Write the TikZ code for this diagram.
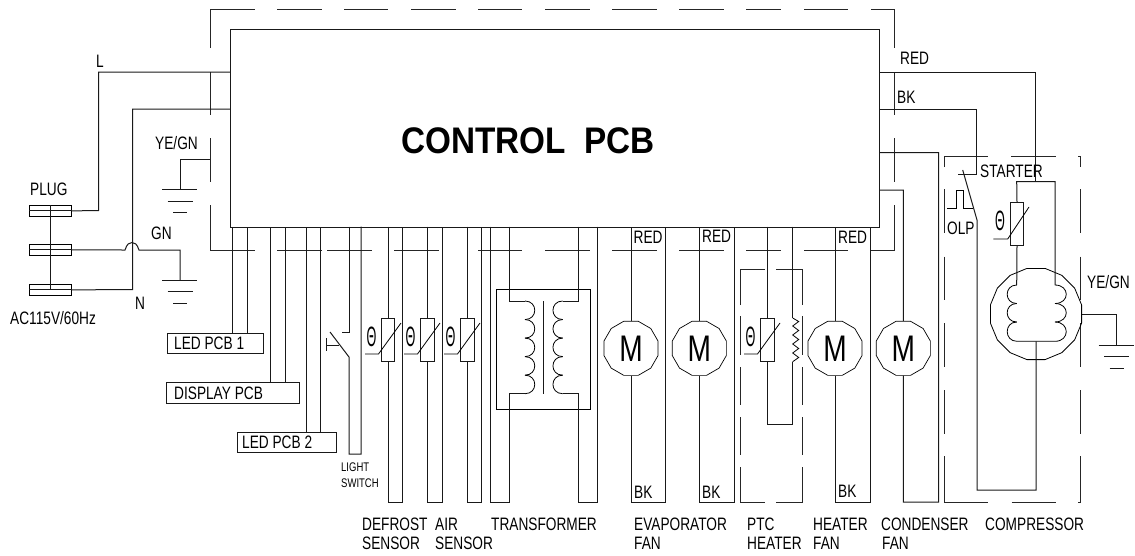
\documentclass[tikz,border=0pt]{standalone}
\usepackage{fontspec}
\usetikzlibrary{shapes.geometric,calc}
\setmainfont{Liberation Sans}[FakeStretch=0.76]
\newfontfamily\wide{Liberation Sans}[FakeStretch=0.9]
\newfontfamily\thin{Liberation Sans}[FakeStretch=0.45]
\tikzset{
  wire/.style={line width=1pt,draw=black!90,line join=miter},
  dsh/.style={line width=1pt,draw=black!85},
  lab/.style={anchor=base west,inner sep=0,font=\fontsize{18}{18}\selectfont},
  tiny lab/.style={anchor=base west,inner sep=0,font=\fontsize{12.5}{12.5}\selectfont},
  pcbbox/.style={draw=black!90,line width=1pt,anchor=north west,inner sep=0,minimum height=20pt,text height=13pt},
  motor/.style={regular polygon,regular polygon sides=12,draw=black,line width=0.7pt,minimum size=56pt,inner sep=0,font=\fontsize{37}{37}\selectfont},
  thbox/.style={draw=black!90,line width=1pt,fill=none,minimum width=13.6pt,minimum height=43pt,inner sep=0},
  theta/.style={inner sep=0,font=\thin\fontsize{28}{28}\selectfont},
}
\begin{document}
\begin{tikzpicture}[x=1pt,y=-1pt]
\useasboundingbox (0,0) rectangle (1135,555);
% main board
\node[draw=black!90,line width=1pt,anchor=north west,minimum width=649pt,minimum height=197.5pt,inner sep=0] (pcb) at (230,29) {};
\node[inner sep=0,anchor=base west,font=\wide\fontsize{37}{37}\bfseries\selectfont] (title) at (401,153) {CONTROL\ \ PCB};
% dashed enclosures (outer)
\draw[dsh] (210,48)--(210,9)--(255,9);
\foreach \a/\b in {277/322,344/388,411/455.7,478/522,545/590,612/657,679/724,746/781,804/848}
  \draw[dsh] (\a,9)--(\b,9);
\draw[dsh] (871,9)--(894,9)--(894,48);
\foreach \a/\b in {72/115,138/182}{
  \draw[dsh] (210,\a)--(210,\b);
  \draw[dsh] (894,\a)--(894,\b);}
\draw[dsh] (210,205)--(210,250)--(255,250);
\draw[dsh] (894,205)--(894,250)--(870,250);
\foreach \a/\b in {277/322,327/372,394/439,478/522,545/590,612/657,679/724,746/781,804/848}
  \draw[dsh] (\a,250)--(\b,250);
% PTC enclosure
\draw[dsh] (740,305)--(740,269.5)--(765,269.5);
\draw[dsh] (776,269.5)--(802,269.5)--(802,305);
\foreach \a/\b in {316/355,367/405,417/455}{
  \draw[dsh] (740,\a)--(740,\b);
  \draw[dsh] (802,\a)--(802,\b);}
\draw[dsh] (740,467)--(740,502)--(765,502);
\draw[dsh] (776,502)--(802,502)--(802,467);
% compressor enclosure
\draw[dsh] (944,167)--(944,156.7)--(988,156.7);
\draw[dsh] (1011,156.7)--(1055.7,156.7);
\draw[dsh] (1078,156.7)--(1080,156.7)--(1080,167);
\foreach \a/\b in {189/233,256.7/300,323/367,390/434}{
  \draw[dsh] (944,\a)--(944,\b);
  \draw[dsh] (1080,\a)--(1080,\b);}
\draw[dsh] (944,456)--(944,502)--(988,502);
\draw[dsh] (1011.7,502)--(1055.7,502);
\draw[dsh] (1078,502)--(1080,502)--(1080,456);
% plug
\foreach \n/\y in {pa/205,pb/244,pc/284}
  \node[draw=black,line width=0.8pt,anchor=north west,minimum width=42pt,minimum height=11pt,inner sep=0] (\n) at (29,\y) {};
\foreach \n in {pa,pb,pc} \draw[wire] (\n.west)--(\n.east);
\draw[wire] (pa.north)--(pc.center);
\draw[wire] (pa.east)--(98.5,210.5)--(98.5,72)--(pcb.west |- 0,72);
\draw[wire] (pc.east)--(132.5,289.5)--(132.5,109)--(pcb.west |- 0,109);
\coordinate (gn1) at (180,280);
\draw[wire] (pb.east)--(125,250) .. controls (127,244) and (129,242.5) .. (132,242.5) .. controls (135,242.5) and (137,244) .. (139,250) -- (180,250)--(gn1);
\coordinate (gn2) at (180,189.5);
\draw[wire] (210,159)--(180,159)--(gn2);
\coordinate (gn3) at (1116.7,345);
\draw[wire] (1082,314.3)--(1116.7,314.3)--(gn3);
\foreach \g in {gn1,gn2,gn3}{
  \draw[wire] ($(\g)+(-18,0)$)--($(\g)+(17,0)$);
  \draw[wire] ($(\g)+(-12.5,11.5)$)--($(\g)+(12.5,11.5)$);
  \draw[wire] ($(\g)+(-7,23)$)--($(\g)+(7,23)$);}
% PCB boxes
\node[pcbbox,minimum width=96.5pt] (led1) at (166.5,333) {};
\node[pcbbox,minimum width=133pt,minimum height=21pt] (disp) at (166,382) {};
\node[pcbbox,minimum width=99pt] (led2) at (237,432) {};
\foreach \x/\b in {232.5/led1,247.5/led1,270/disp,285/disp,306/led2,320.5/led2}
  \draw[wire] ({\x,0} |- pcb.south)--({\x,0} |- \b.north);
\node[lab] (tled1) at (174,349) {LED PCB 1};
\node[lab] (tdisp) at (174,399) {DISPLAY PCB};
\node[lab] (tled2) at (242,448) {LED PCB 2};
% light switch
\draw[wire] (349,226.5)--(349,332)--(341.5,332);
\draw[wire] (330,332)--(349,357)--(349,454)--(361,454)--(361,226.5);
\draw[wire] (326,338)--(326,351);
\draw[wire] (326,345)--(338.5,345);
\node[tiny lab] (ls1) at (341,471) {LIGHT};
\node[tiny lab] (ls2) at (341,487) {SWITCH};
% sensors
\foreach \nm/\l/\r/\hs in {sa/388/402.3/365,sb/427.7/442/404,sc/467.3/481.7/444}{
  \node[thbox] (\nm) at (\l,339.5) {};
  \draw[wire] (\l,226.5)--(\nm.north);
  \draw[wire] (\nm.south)--(\l,502)--(\r,502)--(\r,226.5);
  \draw[line width=0.8pt] (\hs,354)--(\hs+13.5,354)--(\hs+36,323);
  \node[theta] at (\hs+6.5,337) {Θ};
}
% transformer
\node[draw=black,line width=0.8pt,anchor=north west,minimum width=94pt,minimum height=119.7pt,inner sep=0] (tr) at (496.3,289.3) {};
\draw[wire] (490.5,226.5)--(490.5,502)--(509.3,502)--(509.3,393.7)--(525,393.7);
\draw[wire] (509.3,226.5)--(509.3,301)--(525,301);
\draw[wire] (597.3,226.5)--(597.3,502)--(578.7,502)--(578.7,393.7)--(562.7,393.7);
\draw[wire] (578.7,226.5)--(578.7,301)--(562.7,301);
\draw[wire] (543.7,301)--(543.7,393.7);
\foreach \i in {0,...,4}{
  \draw[line width=0.8pt] (525,301+\i*18.54) .. controls (538,301+\i*18.54) and (538,319.54+\i*18.54) .. (525,319.54+\i*18.54);
  \draw[line width=0.8pt] (562.7,301+\i*18.54) .. controls (549.7,301+\i*18.54) and (549.7,319.54+\i*18.54) .. (562.7,319.54+\i*18.54);
}
% motors
\node[motor] (m1) at (631,348.3) {M};
\node[motor] (m2) at (699.3,348.3) {M};
\node[motor] (m3) at (835,348.3) {M};
\node[motor] (m4) at (903.3,348.3) {M};
\foreach \m/\r in {m1/665.7,m2/734.3,m3/870}{
  \draw[wire] (\m.north)--(\m.north |- pcb.south);
  \draw[wire] (\m.south)--(\m.south |- 0,502)--(\r,502)--({\r,0} |- pcb.south);
}
\draw[wire] (m4.north)--(903.3,190)--(pcb.east |- 0,190);
\draw[wire] (m4.south)--(903.3,502)--(938.7,502)--(938.7,152.5)--(pcb.east |- 0,152.5);
\node[lab] at (633.5,243) {RED};
\node[lab] at (702,242) {RED};
\node[lab] at (838,243) {RED};
\node[lab] at (634,498) {BK};
\node[lab] at (702,498) {BK};
\node[lab] at (838,497) {BK};
% PTC heater
\node[thbox] (ptc) at (767.3,339.5) {};
\draw[wire] (767.3,226.5)--(ptc.north);
\draw[wire] (ptc.south)--(767.3,424)--(792.7,424)--(792.7,361.7);
\draw[wire] (792.7,226.5)--(792.7,318);
\draw[line width=0.8pt] (792.7,318)--(798.7,321.5)--(792.7,326)--(798.7,330.5)--(792.7,335)--(798.7,339.5)--(792.7,344)--(798.7,348.5)--(792.7,353)--(798.7,357.5)--(792.7,361.7);
\draw[line width=0.8pt] (744,354)--(757.5,354)--(780,323);
\node[theta] at (750.5,337) {Θ};
% compressor
\node[regular polygon,regular polygon sides=16,draw=black,line width=0.8pt,minimum size=93pt,inner sep=0] (cm) at (1036,314) {};
\draw[wire] (pcb.east |- 0,72)--(1035.7,72)--(1035.7,181.7);
\node[thbox] (cth) at (1017,224) {};
\draw[wire] (1055,285)--(1055,181.7)--(1016.7,181.7)--(cth.north);
\draw[wire] (cth.south)--(1016.7,285);
\draw[line width=0.8pt] (993.3,239)--(1007.7,239)--(1029,207);
\node[theta] at (1000,221) {Θ};
\foreach \i in {0,1}{
  \draw[line width=0.8pt] (1016.7,285+\i*18.5) .. controls (1004,285+\i*18.5) and (1004,303.5+\i*18.5) .. (1016.7,303.5+\i*18.5);
  \draw[line width=0.8pt] (1055,285+\i*18.5) .. controls (1070,285+\i*18.5) and (1070,303.5+\i*18.5) .. (1055,303.5+\i*18.5);
}
\draw[line width=0.8pt] (1016.7,322) .. controls (1004,322) and (1004,341.3) .. (1017,341.3) -- (1055,341.3) .. controls (1070,341.3) and (1070,322) .. (1055,322);
\draw[wire] (cm.south |- 0,341.3)--(1036,490)--(977,490)--(977,220)--(962.7,170);
\draw[wire] (pcb.east |- 0,109)--(976.7,109)--(976.7,174)--(958,174);
\draw[line width=0.8pt] (947,208.3)--(956.7,208.3)--(956.7,190.7)--(963.3,190.7)--(963.3,208.3)--(973.3,208.3);
% labels
\node[lab] at (96,67) {L};
\node[lab] at (155,149) {YE/GN};
\node[lab] at (30,195) {PLUG};
\node[lab] at (151,239) {GN};
\node[lab] at (135,309) {N};
\node[lab] at (10,324) {AC115V/60Hz};
\node[lab] at (900,64) {RED};
\node[lab] at (897,103) {BK};
\node[lab] at (980,177) {STARTER};
\node[lab] at (947,234) {OLP};
\node[lab] at (1087,288) {YE/GN};
\node[lab] at (362,530) {DEFROST};
\node[lab] at (362,549) {SENSOR};
\node[lab] at (435,530) {AIR};
\node[lab] at (435,549) {SENSOR};
\node[lab] at (491,530) {TRANSFORMER};
\node[lab] at (634,530) {EVAPORATOR};
\node[lab] at (634,549) {FAN};
\node[lab] at (747,530) {PTC};
\node[lab] at (747,549) {HEATER};
\node[lab] at (813,530) {HEATER};
\node[lab] at (813,549) {FAN};
\node[lab] at (881,530) {CONDENSER};
\node[lab] at (882,549) {FAN};
\node[lab] at (985,530) {COMPRESSOR};
\end{tikzpicture}
\end{document}
